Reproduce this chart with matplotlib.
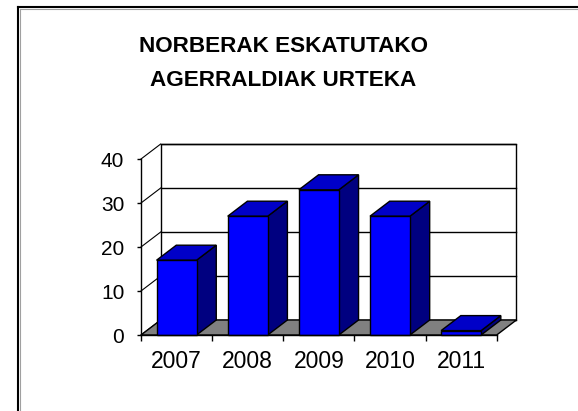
import matplotlib
matplotlib.use("Agg")
import matplotlib.pyplot as plt
from matplotlib.patches import Polygon
from matplotlib.lines import Line2D

title = "NORBERAK ESKATUTAKO\nAGERRALDIAK URTEKA"
years = ["2007", "2008", "2009", "2010", "2011"]
values = [17, 27, 33, 27, 1]
yticks = [0, 10, 20, 30, 40]

W, H = 578, 411
fig = plt.figure(figsize=(W / 100, H / 100), dpi=100)
fig.patch.set_facecolor("white")

# front plane in pixels
x0p, x1p = 141, 496.7
y0p, y1p = 335, 159
ax = fig.add_axes([x0p / W, (H - y0p) / H, (x1p - x0p) / W, (y0p - y1p) / H])
ax.set_xlim(0, len(years))
ax.set_ylim(0, 40)
ax.patch.set_visible(False)

# depth offset (data units)
dxp, dyp = 19.7, 15.0
dx = dxp / ((x1p - x0p) / len(years))
dy = dyp / ((y0p - y1p) / 40)
n = len(years)

# back wall
ax.add_patch(Polygon([(dx, dy), (n + dx, dy), (n + dx, 40 + dy), (dx, 40 + dy)],
                     closed=True, facecolor="white", edgecolor="black", lw=1.0,
                     clip_on=False, zorder=1))
for t in yticks:
    ax.add_line(Line2D([dx, n + dx], [t + dy, t + dy], color="black", lw=1.0,
                       clip_on=False, zorder=2))
    ax.add_line(Line2D([0, dx], [t, t + dy], color="black", lw=0.8,
                       clip_on=False, zorder=2))

# floor
ax.add_patch(Polygon([(0, 0), (n, 0), (n + dx, dy), (dx, dy)], closed=True,
                     facecolor="#808080", edgecolor="black", lw=1.0,
                     clip_on=False, zorder=3))

# bars
bw = 40 / ((x1p - x0p) / n)
for i, v in enumerate(values):
    a = i + 0.5 - bw / 2
    b = i + 0.5 + bw / 2
    side = Polygon([(b, 0), (b + dx, dy), (b + dx, v + dy), (b, v)], closed=True,
                   facecolor="#000080", edgecolor="black", lw=1.0, clip_on=False, zorder=4)
    top = Polygon([(a, v), (b, v), (b + dx, v + dy), (a + dx, v + dy)], closed=True,
                  facecolor="#0000C8", edgecolor="black", lw=1.0, clip_on=False, zorder=4)
    front = Polygon([(a, 0), (b, 0), (b, v), (a, v)], closed=True,
                    facecolor="#0000FF", edgecolor="black", lw=1.0, clip_on=False, zorder=5)
    for p in (side, top, front):
        ax.add_patch(p)

# axes styling
for s in ("top", "right"):
    ax.spines[s].set_visible(False)
ax.spines["left"].set_linewidth(1.0)
ax.spines["bottom"].set_linewidth(1.0)
ax.spines["left"].set_zorder(6)
ax.spines["bottom"].set_zorder(6)

ax.set_yticks(yticks)
ax.set_yticklabels([str(t) for t in yticks], fontfamily="Liberation Sans", fontsize=15)
ax.tick_params(axis="y", direction="out", length=3, width=1, pad=9, colors="black")

ax.set_xticks(range(n + 1))
ax.set_xticklabels([])
ax.set_xticks([i + 0.5 for i in range(n)], minor=True)
ax.set_xticklabels(years, minor=True, fontfamily="Liberation Sans", fontsize=16.5)
ax.tick_params(axis="x", which="major", direction="out", length=4.5, width=1)
ax.tick_params(axis="x", which="minor", length=0, pad=11)

# title
fig.text(283.3 / W, 1 - 35.5 / H, title, ha="center", va="top",
         fontfamily="Liberation Sans", fontweight="bold", fontsize=16.2,
         linespacing=1.85, color="black")

# outer frame (left & top edges)
fig.add_artist(Line2D([17.5 / W, 17.5 / W], [0, 1 - 7.5 / H], color="black", lw=1.5,
                      transform=fig.transFigure))
fig.add_artist(Line2D([17.5 / W, 1], [1 - 7.5 / H, 1 - 7.5 / H], color="black", lw=1.5,
                      transform=fig.transFigure))
fig.add_artist(Line2D([19.5 / W, 19.5 / W], [0, 1 - 9.5 / H], color="#a0a0a0", lw=0.8,
                      transform=fig.transFigure))
fig.add_artist(Line2D([19.5 / W, 1], [1 - 9.5 / H, 1 - 9.5 / H], color="#a0a0a0", lw=0.8,
                      transform=fig.transFigure))

fig.savefig("out.png", dpi=100, facecolor="white")
